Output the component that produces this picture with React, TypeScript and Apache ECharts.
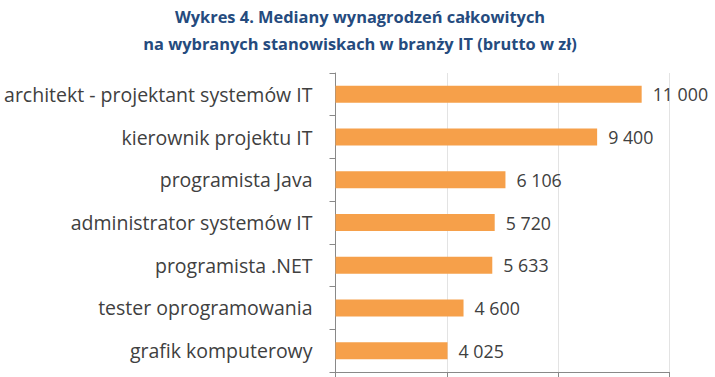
import React, { useEffect, useRef } from "react";
import * as echarts from "echarts";

const categories = [
  "architekt - projektant systemów IT",
  "kierownik projektu IT",
  "programista Java",
  "administrator systemów IT",
  "programista .NET",
  "tester oprogramowania",
  "grafik komputerowy",
];
const values = [11000, 9400, 6106, 5720, 5633, 4600, 4025];
const titleLines = [
  "Wykres 4. Mediany wynagrodzeń całkowitych",
  "na wybranych stanowiskach w branży IT (brutto w zł)",
];

const fmt = (v: number) => String(v).replace(/\B(?=(\d{3})+(?!\d))/g, " ");

export default function App() {
  const ref = useRef<HTMLDivElement>(null);
  useEffect(() => {
    if (!ref.current) return;
    const chart = echarts.init(ref.current, undefined, { renderer: "svg" });
    chart.setOption({
      animation: false,
      backgroundColor: "#ffffff",
      title: {
        text: titleLines.join("\n"),
        left: 355,
        textAlign: "center",
        top: -2,
        textStyle: {
          fontFamily: "Open Sans",
          fontWeight: "bold",
          fontSize: 16.4,
          color: "#254B7E",
          lineHeight: 27,
        },
      },
      grid: { left: 335.5, right: 715 - 669.5, top: 73, bottom: 377 - 372 },
      xAxis: {
        type: "value",
        min: 0,
        max: 12000,
        interval: 4000,
        axisLabel: { show: false },
        axisLine: { show: true, lineStyle: { color: "#898989", width: 1 } },
        axisTick: { show: true, length: 5, lineStyle: { color: "#898989" } },
        splitLine: { show: true, lineStyle: { color: "#E3E3E3", width: 1 } },
      },
      yAxis: {
        type: "category",
        data: categories,
        inverse: true,
        axisLine: { show: true, lineStyle: { color: "#898989", width: 1 } },
        axisTick: { show: true, length: 6, lineStyle: { color: "#898989" } },
        axisLabel: {
          margin: 23,
          fontFamily: "Open Sans",
          fontSize: 19.5,
          color: "#404040",
        },
      },
      series: [
        {
          type: "bar",
          data: values,
          barWidth: 17,
          itemStyle: { color: "#F6A04A" },
          label: {
            show: true,
            position: "right",
            distance: 11,
            fontFamily: "Open Sans",
            fontSize: 17.8,
            color: "#404040",
            formatter: (p: any) => fmt(p.value),
          },
        },
      ],
    });
    return () => chart.dispose();
  }, []);
  return (
    <div
      ref={ref}
      style={{ position: "fixed", left: 0, top: 0, width: 715, height: 377 }}
    />
  );
}
